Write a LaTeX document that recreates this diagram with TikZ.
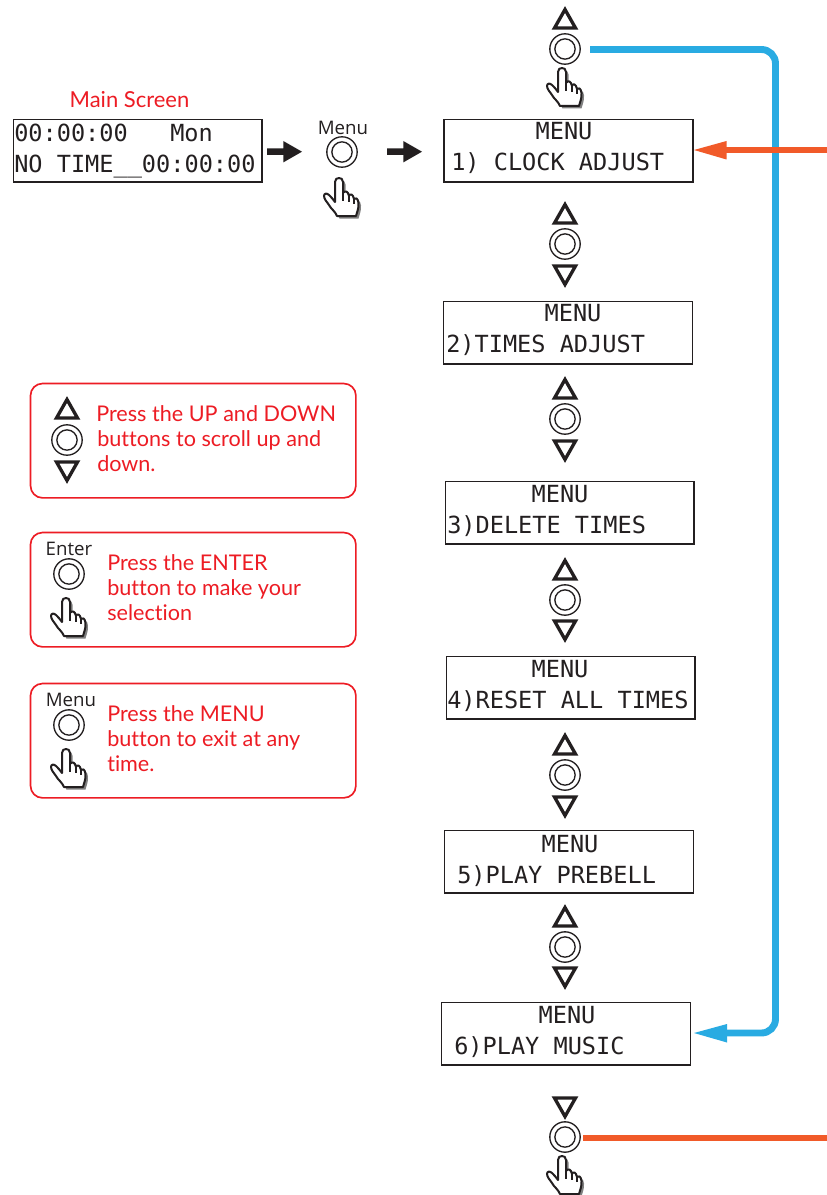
\documentclass[tikz,border=0pt]{standalone}
\usepackage{fontspec}
\setmainfont{Liberation Sans}
\newfontfamily\lcdfont{DejaVu Sans Mono}
\newfontfamily\notefont[Ligatures=CommonOff]{Lato}
\newfontfamily\btnfont{Open Sans}
\definecolor{inkc}{HTML}{231F20}
\definecolor{bluec}{HTML}{29ABE2}
\definecolor{orangec}{HTML}{F15A29}
\definecolor{redc}{HTML}{ED1C24}
\tikzset{
  lcdbox/.style={draw=inkc,line width=1.25pt,rectangle,inner sep=0pt,anchor=north west},
  lcd/.style={font=\lcdfont\fontsize{17.68pt}{17.68pt}\selectfont,text=inkc,inner sep=0pt,anchor=base west},
  lcdc/.style={lcd,anchor=base},
  note/.style={font=\notefont\fontsize{16.2pt}{16.2pt}\selectfont,text=redc,inner sep=0pt,anchor=base west},
  btnlabel/.style={font=\btnfont\fontsize{14pt}{14pt}\selectfont,text=inkc,inner sep=0pt},
  panel/.style={draw=redc,line width=1.25pt,rounded corners=9pt,rectangle,inner sep=0pt,anchor=north west,minimum width=244pt,minimum height=85.75pt},
  btnouter/.style={draw=inkc,line width=1pt,circle,inner sep=0pt,minimum size=22.8pt},
  tri/.style={draw=inkc,line width=2.5pt,miter limit=10,join=miter},
}
\newcommand{\btn}[3]{%
  \node[btnouter] (#1) at (#2,#3) {};
  \draw[inkc,line width=1pt] (#1.center) circle[radius=7.6pt];}
\newcommand{\trup}[2]{\draw[tri] (#1,#2-9.5) -- (#1+10.5,#2+9) -- (#1-10.5,#2+9) -- cycle;}
\newcommand{\trdown}[2]{\draw[tri] (#1,#2+9.5) -- (#1+10.5,#2-9) -- (#1-10.5,#2-9) -- cycle;}
\newcommand{\handpath}{(-4,4) .. controls (-4,1) and (-2,0) .. (0,0) .. controls (2,0) and (4,1) .. (4,4)
  -- (4,15) .. controls (6,12) and (9,13) .. (10,18) .. controls (11,15) and (14,16) .. (15,21)
  .. controls (16,19) and (19,20) .. (19.5,25) .. controls (20,30) and (18,34) .. (17,38)
  -- (-2,38) .. controls (-4,33) and (-8,31) .. (-10,27) .. controls (-12,24) and (-15,21) .. (-15,18)
  .. controls (-15,15) and (-12,15) .. (-10,17) .. controls (-8,19) and (-6,21) .. (-4,24) -- cycle}
\newcommand{\hand}[2]{%
  \begin{scope}[shift={(#1,#2)}]
    \fill[gray] [shift={(2.5,2.5)}] \handpath;
    \draw[inkc,fill=white,line width=1.5pt,line join=round] \handpath;
    \draw[inkc,line width=1pt] (4,15) -- (4,23) (10,18) -- (10,24) (15,21) -- (15,26);
  \end{scope}}
\begin{document}
\begin{tikzpicture}[x=0.75pt,y=-0.75pt]
\useasboundingbox (0,0) rectangle (827,1195);
\fill[white] (0,0) rectangle (827,1195);

\coordinate (blueturn) at (775.5,49.5);
\coordinate (orangein) at (827,150);
\coordinate (orangeout) at (827,1138);

% LCD boxes
\node[lcdbox,minimum width=186.25pt,minimum height=46.75pt] (mainbox) at (12.7,118.7) {};
\node[lcdbox,minimum width=186.75pt,minimum height=46.75pt] (box1) at (443,118.7) {};
\node[lcdbox,minimum width=186.75pt,minimum height=46.75pt] (box2) at (442.7,300.7) {};
\node[lcdbox,minimum width=186.25pt,minimum height=46.75pt] (box3) at (444.7,480.7) {};
\node[lcdbox,minimum width=186.25pt,minimum height=46.75pt] (box4) at (445.7,655.7) {};
\node[lcdbox,minimum width=186.75pt,minimum height=46.75pt] (box5) at (443.7,829.7) {};
\node[lcdbox,minimum width=186.75pt,minimum height=46.75pt] (box6) at (440.7,1001.7) {};

\node[lcd] (ms1) at (14,142) {00:00:00};
\node[lcd] (ms1b) at (170,142) {Mon};
\node[lcd] (ms2) at (14,173) {NO TIME\_\_00:00:00};
\node[font=\notefont\fontsize{16.5pt}{16.5pt}\selectfont,text=redc,inner sep=0pt,anchor=base] (mstitle) at (129.5,107.5) {Main Screen};

\node[lcdc] (t1a) at (564,140) {MENU};
\node[lcd] (t1b) at (451,171) {1) CLOCK ADJUST};
\node[lcdc] (t2a) at (573,321) {MENU};
\node[lcd] (t2b) at (446,352) {2)TIMES ADJUST};
\node[lcdc] (t3a) at (560,502) {MENU};
\node[lcd] (t3b) at (447,533) {3)DELETE TIMES};
\node[lcdc] (t4a) at (560,677) {MENU};
\node[lcd] (t4b) at (447,708) {4)RESET ALL TIMES};
\node[lcdc] (t5a) at (570,852) {MENU};
\node[lcd] (t5b) at (457,883) {5)PLAY PREBELL};
\node[lcdc] (t6a) at (567,1023) {MENU};
\node[lcd] (t6b) at (454,1054) {6)PLAY MUSIC};

% top button group
\trup{565}{19}
\btn{btop}{565}{49}
\hand{562}{68}

% menu button near main screen
\node[btnlabel] (menul) at (343,128) {Menu};
\btn{bmenu}{342}{152}
\hand{339}{178}

% columns between boxes
\trup{565}{214}\btn{b12}{565}{244}\trdown{565}{275}
\trup{565}{389}\btn{b23}{565}{419}\trdown{565}{450}
\trup{565}{570}\btn{b34}{565}{600}\trdown{565}{630}
\trup{565}{745}\btn{b45}{565}{775}\trdown{565}{806}
\trup{565}{917}\btn{b56}{565}{947}\trdown{565}{977}

% bottom group
\trdown{565}{1107}
\btn{bbot}{565}{1137}
\hand{562}{1156}

% black arrows
\coordinate (a1s) at (267,151.7); \coordinate (a1e) at (302,151.7);
\coordinate (a2s) at (387,151.7); \coordinate (a2e) at (422,151.7);
\fill[inkc] (a1s) ++(0,-3.3) -- ++(16.3,0) -- ++(0,-7.4) -- (a1e) -- (283.3,162.4) -- (283.3,155) -- (267,155) -- cycle;
\fill[inkc] (a2s) ++(0,-3.3) -- ++(16.3,0) -- ++(0,-7.4) -- (a2e) -- (403.3,162.4) -- (403.3,155) -- (387,155) -- cycle;

% coloured connectors
\draw[bluec,line width=5.2pt,rounded corners=10.5pt] (590,49.5) -- (blueturn) -- (775.5,1033) -- (722,1033);
\fill[bluec] (694,1033) -- (727,1024) -- (727,1042.5) -- cycle;
\draw[orangec,line width=5.2pt] (orangein) -- (722,150);
\fill[orangec] (694,150) -- (726.5,141) -- (726.5,159.5) -- cycle;
\draw[orangec,line width=5.2pt] (583,1138) -- (orangeout);

% panels
\node[panel] (p1) at (29.7,382.7) {};
\node[panel] (p2) at (29.7,531.7) {};
\node[panel] (p3) at (29.7,682.7) {};

\trup{67}{409}\btn{pb1}{67}{440}\trdown{67}{471}
\node[note] (n1a) at (96,421) {Press the UP and DOWN};
\node[note] (n1b) at (97,446) {buttons to scroll up and};
\node[note] (n1c) at (97,471) {down.};

\node[btnlabel] (enterl) at (69,549) {Enter};
\btn{pb2}{69}{574}
\hand{66}{598}
\node[note] (n2a) at (107,570) {Press the ENTER};
\node[note] (n2b) at (107,595) {button to make your};
\node[note] (n2c) at (107,620) {selection};

\node[btnlabel] (menul2) at (71,700) {Menu};
\btn{pb3}{69}{725}
\hand{66}{749}
\node[note] (n3a) at (107,721) {Press the MENU};
\node[note] (n3b) at (107,746) {button to exit at any};
\node[note] (n3c) at (107,771) {time.};
\end{tikzpicture}
\end{document}
